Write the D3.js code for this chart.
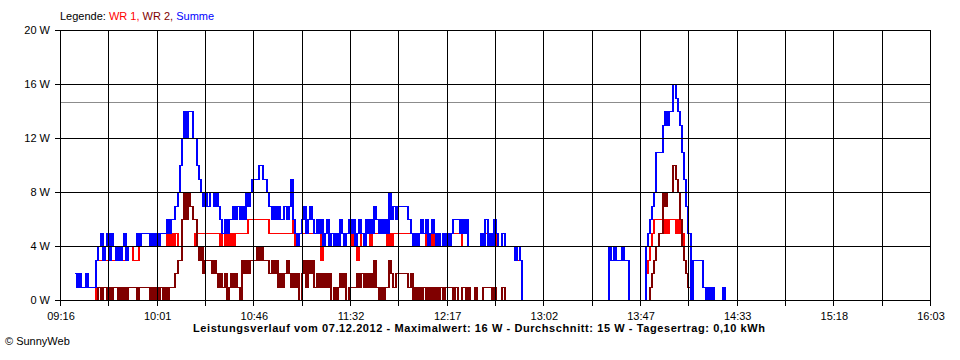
<!DOCTYPE html>
<html><head><meta charset="utf-8">
<script src="https://cdn.jsdelivr.net/npm/d3@7"></script>
<style>
html,body{margin:0;padding:0;background:#fff;}
svg{display:block;font-family:"Liberation Sans",Arial,sans-serif;}
</style>
</head><body>
<svg id="chart" width="960" height="360"></svg>
<script>
// ---------- data ----------
const firstSample = "09:23";           // one sample per minute from here
const timeDomain = ["09:16", "16:03"];
const xGridIntervals = 18;
const xTickLabels = ["09:16","10:01","10:46","11:32","12:17","13:02","13:47","14:33","15:18","16:03"];
const yTicks = [0, 4, 8, 12, 16, 20];
const yTickLabels = ["0 W","4 W","8 W","12 W","16 W","20 W"];
const averageLine = 14.7;
const legendItems = ["WR 1", "WR 2", "Summe"];
const titleText = "Leistungsverlauf vom 07.12.2012 - Maximalwert: 16 W - Durchschnitt: 15 W - Tagesertrag: 0,10 kWh";
const copyright = "\u00A9 SunnyWeb";

const summe = [
 2,1,2,1,1,2,1,1,1,1,
 3,4,5,3,4,5,3,5,4,3,
 4,3,4,5,3,4,4,4,4,5,
 4,5,5,5,5,4,5,4,5,4,
 5,5,5,6,5,6,6,7,8,10,
 12,14,12,14,14,12,12,10,9,8,
 7,8,7,8,8,7,8,7,6,5,
 6,5,6,6,7,6,7,6,7,6,
 8,7,8,9,9,9,10,10,9,9,
 8,7,6,7,6,7,6,6,7,6,
 7,9,6,5,4,5,6,7,5,6,
 7,6,5,6,5,6,4,5,6,4,
 5,4,5,4,6,5,4,5,6,5,
 6,4,5,6,5,4,6,5,6,5,
 7,6,5,6,5,6,5,8,6,7,
 6,7,7,7,7,7,6,5,4,5,
 4,5,6,5,6,4,5,6,5,4,
 5,4,5,4,5,4,5,6,6,6,
 5,6,5,6,4,4,4,4,4,4,
 5,4,6,4,5,4,6,5,4,4,
 5,4,4,4,4,4,3,4,3,0,
 0,0,0,0,0,0,0,0,0,0,
 0,0,0,0,0,0,0,0,0,0,
 0,0,0,0,0,0,0,0,0,0,
 0,0,0,0,0,0,0,0,0,0,
 4,3,4,3,3,3,4,3,3,0,
 0,0,0,0,0,0,0,4,5,6,
 7,8,11,11,11,13,14,13,14,14,
 16,15,14,13,11,9,7,5,0,3,
 3,3,3,3,1,0,1,0,1,0,
 0,0,0,1,0
];
const wr1 = [
 0,0,0,0,0,0,0,0,0,0,
 3,3,3,3,3,3,3,3,3,3,
 3,3,3,3,3,4,4,3,3,3,
 4,4,4,4,4,4,4,4,4,4,
 4,4,4,5,4,5,4,5,4,4,
 4,4,4,4,4,4,5,5,5,5,
 5,5,5,5,5,5,5,5,4,5,
 4,5,4,5,4,5,5,5,5,5,
 5,6,6,6,6,6,6,6,6,6,
 6,5,5,5,5,5,5,5,5,5,
 5,5,6,4,5,5,5,5,5,5,
 5,5,5,5,5,3,4,5,5,5,
 5,5,5,5,5,5,5,5,5,4,
 5,5,3,4,5,5,5,5,4,5,
 5,5,5,5,5,5,4,5,4,5,
 5,5,5,5,5,5,5,5,5,5,
 4,5,5,5,4,5,4,5,4,5,
 4,4,4,4,4,4,5,5,5,5,
 5,4,4,4,4,4,4,4,4,4,
 4,4,5,4,4,4,5,4,4,4,
 4,4,4,4,4,4,3,3,3,0,
 0,0,0,0,0,0,0,0,0,0,
 0,0,0,0,0,0,0,0,0,0,
 0,0,0,0,0,0,0,0,0,0,
 0,0,0,0,0,0,0,0,0,0,
 3,3,3,3,3,3,3,3,3,0,
 0,0,0,0,0,0,0,2,3,4,
 5,6,6,6,6,5,6,5,6,6,
 6,5,6,5,5,4,4,4,0,0,
 0,0,0,0,0,0,0,0,0,0,
 0,0,0,0,0
];
const wr2 = [
 0,0,0,0,0,0,0,0,0,0,
 0,1,0,1,1,0,1,0,1,1,
 0,1,0,1,0,1,1,1,1,0,
 1,1,1,1,1,0,1,0,1,0,
 1,0,1,0,1,1,1,2,3,3,
 6,8,6,8,7,6,6,4,3,4,
 2,3,3,3,2,3,2,1,2,1,
 2,0,1,2,1,2,1,0,3,2,
 3,2,3,3,3,4,3,4,3,3,
 3,2,3,2,3,1,2,1,2,3,
 2,1,2,1,2,0,2,3,1,3,
 2,3,1,2,1,2,1,2,1,2,
 0,1,0,1,2,1,2,0,1,1,
 1,1,2,1,2,1,2,1,2,1,
 3,1,0,1,0,1,1,3,2,1,
 2,2,2,2,2,2,1,2,0,1,
 0,1,0,1,0,1,0,1,0,1,
 0,1,0,1,1,1,1,0,1,0,
 0,1,1,0,1,0,0,1,0,0,
 0,1,1,1,1,0,1,0,0,0,
 1,0,0,0,0,0,0,0,0,0,
 0,0,0,0,0,0,0,0,0,0,
 0,0,0,0,0,0,0,0,0,0,
 0,0,0,0,0,0,0,0,0,0,
 0,0,0,0,0,0,0,0,0,0,
 0,0,0,0,0,0,0,0,0,0,
 0,0,0,0,0,0,0,0,0,1,
 2,3,4,5,5,8,7,8,8,8,
 10,9,8,6,4,3,2,1,0,0,
 0,0,0,0,0,0,0,0,0,0,
 0,0,0,0,0
];

// ---------- helpers ----------
const toMin = s => { const [h, m] = s.split(":").map(Number); return h * 60 + m; };
const t0 = toMin(firstSample);
const mk = arr => arr.map((v, i) => ({t: t0 + i, v}));

const svg = d3.select("#chart");
const plotL = 60, plotR = 930, plotT = 30, plotB = 300;

const x = d3.scaleLinear().domain(timeDomain.map(toMin)).range([plotL, plotR]);
const y = d3.scaleLinear().domain([0, 20]).range([plotB, plotT]);
const px = v => Math.round(v) + 0.5;

const colors = {wr1: "#ff0000", wr2: "#800000", summe: "#0000ff"};

// average line (under data)
svg.append("line")
  .attr("x1", plotL).attr("x2", plotR + 1)
  .attr("y1", px(y(averageLine))).attr("y2", px(y(averageLine)))
  .attr("stroke", "#8c8c8c").attr("stroke-width", 1);

// series: step lines, horizontal runs 1px, vertical steps 2px
function drawSeries(arr, color) {
  const pts = mk(arr);
  let h = "", v = "";
  for (let i = 0; i < pts.length - 1; i++) {
    const xa = Math.round(x(pts[i].t)), xb = Math.round(x(pts[i + 1].t));
    const ya = Math.round(y(pts[i].v)), yb = Math.round(y(pts[i + 1].v));
    h += `M${xa},${ya + 0.5}H${xb + 1}`;
    if (ya !== yb) v += `M${xb},${Math.min(ya, yb)}V${Math.max(ya, yb) + 1}`;
  }
  const g = svg.append("g").attr("fill", "none").attr("stroke", color)
    .attr("shape-rendering", "crispEdges");
  g.append("path").attr("d", h).attr("stroke-width", 1);
  g.append("path").attr("d", v).attr("stroke-width", 2);
}
drawSeries(wr1, colors.wr1);
drawSeries(wr2, colors.wr2);
drawSeries(summe, colors.summe);

// grid (drawn over the data)
const gridTimes = d3.range(xGridIntervals + 1).map(i =>
  toMin(timeDomain[0]) + i * (toMin(timeDomain[1]) - toMin(timeDomain[0])) / xGridIntervals);
const g = svg.append("g").attr("stroke", "#000").attr("stroke-width", 1).attr("shape-rendering", "crispEdges");
gridTimes.forEach(t => {
  g.append("line").attr("x1", px(x(t))).attr("x2", px(x(t)))
    .attr("y1", plotT).attr("y2", plotB + 6);
});
yTicks.forEach(v => {
  g.append("line").attr("x1", plotL - 5).attr("x2", plotR + 1)
    .attr("y1", px(y(v))).attr("y2", px(y(v)));
});

// y labels
svg.append("g").selectAll("text").data(yTicks).join("text")
  .attr("x", 50).attr("y", d => y(d) + 4)
  .attr("text-anchor", "end").attr("font-size", 11).attr("fill", "#000")
  .text((d, i) => yTickLabels[i]);

// x labels (every second grid line)
svg.append("g").selectAll("text").data(xTickLabels).join("text")
  .attr("x", (d, i) => x(gridTimes[i * 2]) + 1)
  .attr("y", 320)
  .attr("text-anchor", "middle").attr("font-size", 11).attr("fill", "#000")
  .text(d => d);

// legend
const leg = svg.append("text").attr("x", 60).attr("y", 20).attr("font-size", 11);
leg.append("tspan").attr("fill", "#000").text("Legende: ");
leg.append("tspan").attr("fill", colors.wr1).text(legendItems[0] + ", ");
leg.append("tspan").attr("fill", colors.wr2).text(legendItems[1] + ", ");
leg.append("tspan").attr("fill", colors.summe).text(legendItems[2]);

// title
svg.append("text").attr("x", 479).attr("y", 332)
  .attr("text-anchor", "middle").attr("font-size", 11).attr("font-weight", "bold")
  .attr("textLength", 572).attr("lengthAdjust", "spacing")
  .attr("fill", "#000").text(titleText);

// copyright
svg.append("text").attr("x", 5).attr("y", 345)
  .attr("font-size", 11).attr("fill", "#000").text(copyright);
</script>
</body></html>
